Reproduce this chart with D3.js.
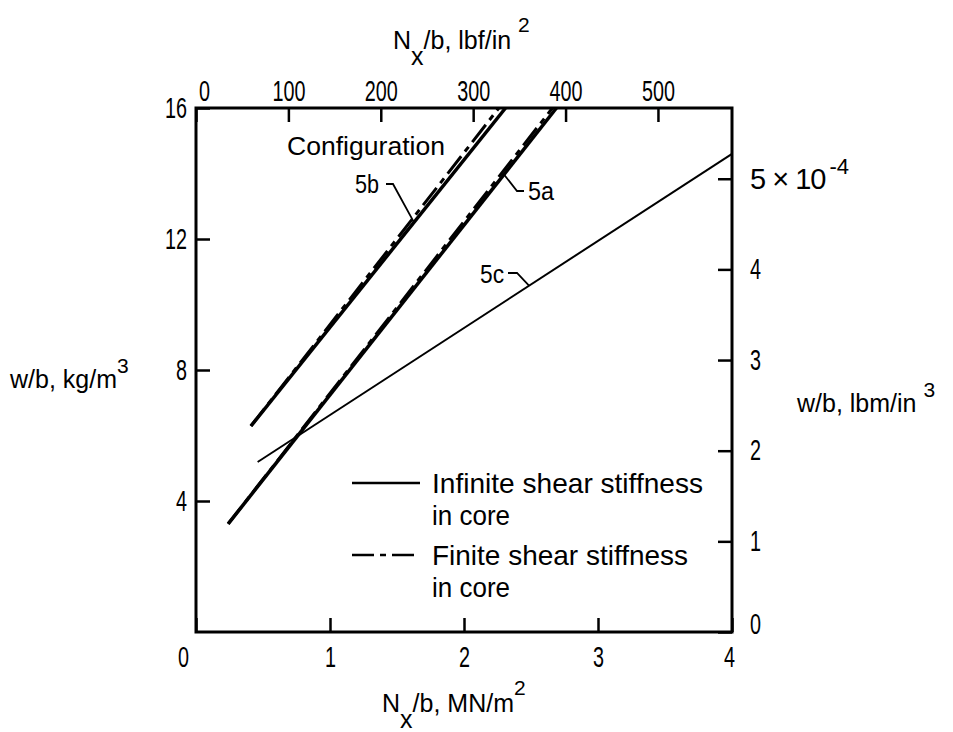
<!DOCTYPE html>
<html>
<head>
<meta charset="utf-8">
<script src="https://cdn.jsdelivr.net/npm/d3@7"></script>
<style>
  body { margin: 0; background: #fff; }
  svg text { font-family: "Liberation Sans", Arial, sans-serif; fill: #000; }
</style>
</head>
<body>
<svg id="chart" width="953" height="732"></svg>
<script>
// tick values, SI on bottom/left, US units on top/right
var siTicksX = [0, 1, 2, 3, 4],
    siTicksY = [4, 8, 12, 16],
    usTicksX = [0, 100, 200, 300, 400, 500],
    usTicksY = [0, 1, 2, 3, 4, 5];

// curves: [N_x/b in MN/m^2, w/b in kg/m^3]
var inf5a = [[0.24, 3.30], [2.69, 16]],
    fin5a = [[0.24, 3.30], [2.66, 16]],
    inf5b = [[0.41, 6.29], [2.31, 16]],
    fin5b = [[0.41, 6.29], [2.26, 16]],
    inf5c = [[0.46, 5.19], [4.0, 14.6]];

var psiPerMN  = 145.038,  // lbf/in^2 per MN/m^2
    lbmPerKg  = 0.36127;  // (lbm/in^3 x 1e-4) per kg/m^3

var x = d3.scaleLinear().domain([0, 4]).range([196, 732]);
var y = d3.scaleLinear().domain([0, 16]).range([632, 108]);
var xTop = d3.scaleLinear().domain([0, 4 * psiPerMN]).range([196, 732]);
var yRight = d3.scaleLinear().domain([0, 16 * lbmPerKg]).range([632, 108]);

var svg = d3.select("#chart");

// the original lettering is tall and narrow, so squeeze glyphs to a width
function fit(t, w) {
  t.attr("textLength", w).attr("lengthAdjust", "spacingAndGlyphs");
}

function styleAxis(g) {
  g.attr("font-size", 29);
  g.select(".domain").remove();
  g.selectAll(".tick line").attr("stroke", "#000").attr("stroke-width", 2.5);
  g.selectAll(".tick text").each(function (d) {
    fit(d3.select(this), String(d).length * 11);
  });
}

// bottom axis
var gb = svg.append("g")
  .attr("transform", "translate(0,632)")
  .call(d3.axisBottom(x).tickValues(siTicksX).tickSizeInner(-14).tickSizeOuter(0)
    .tickPadding(14).tickFormat(d3.format("d")))
  .call(styleAxis);
gb.selectAll(".tick text").attr("dx", function (d) { return d === 0 ? -13 : d === 4 ? -3 : 0; });

// left axis
svg.append("g")
  .attr("transform", "translate(196,0)")
  .call(d3.axisLeft(y).tickValues(siTicksY).tickSizeInner(-14).tickSizeOuter(0)
    .tickPadding(9).tickFormat(d3.format("d")))
  .call(styleAxis);

// top axis (lbf/in^2)
var gt = svg.append("g")
  .attr("transform", "translate(0,108)")
  .call(d3.axisTop(xTop).tickValues(usTicksX).tickSizeInner(-14).tickSizeOuter(0)
    .tickPadding(7).tickFormat(d3.format("d")))
  .call(styleAxis);
gt.selectAll(".tick text").attr("dx", function (d) { return d === 0 ? 8 : 0; });

// right axis (lbm/in^3)
var gr = svg.append("g")
  .attr("transform", "translate(732,0)")
  .call(d3.axisRight(yRight).tickValues(usTicksY).tickSizeInner(-14).tickSizeOuter(0)
    .tickPadding(18).tickFormat(d3.format("d")))
  .call(styleAxis);
gr.selectAll(".tick text").filter(function (d) { return d === 0; }).attr("dy", "0.05em");
gr.selectAll(".tick text").filter(function (d) { return d === 5; })
  .text(null)
  .attr("textLength", null).attr("lengthAdjust", null)
  .call(function (t) {
    t.append("tspan").attr("letter-spacing", -1).text("5 \u00d7 10");
    t.append("tspan").attr("dx", 4).attr("dy", -15).attr("font-size", 22).text("-4");
  });

// frame
svg.append("rect")
  .attr("x", x(0)).attr("y", y(16))
  .attr("width", x(4) - x(0)).attr("height", y(0) - y(16))
  .attr("fill", "none").attr("stroke", "#000").attr("stroke-width", 3);

// curves
var line = d3.line().x(function (d) { return x(d[0]); }).y(function (d) { return y(d[1]); });
var dashDot = "22,6,6,6";

[inf5a, inf5b].forEach(function (s) {
  svg.append("path").attr("d", line(s)).attr("fill", "none")
    .attr("stroke", "#000").attr("stroke-width", 3.5);
});
[fin5a, fin5b].forEach(function (s) {
  svg.append("path").attr("d", line(s)).attr("fill", "none")
    .attr("stroke", "#000").attr("stroke-width", 3).attr("stroke-dasharray", dashDot);
});
svg.append("path").attr("d", line(inf5c)).attr("fill", "none")
  .attr("stroke", "#000").attr("stroke-width", 2);

// point on a curve at a given pixel x
function onLine(s, px) {
  var xv = x.invert(px),
      t = (xv - s[0][0]) / (s[1][0] - s[0][0]);
  return [px, y(s[0][1] + t * (s[1][1] - s[0][1]))];
}

var txt = svg.append("g").attr("font-size", 25);

txt.append("text").attr("x", 287).attr("y", 155).attr("font-size", 26)
  .text("Configuration").call(fit, 158);

// labels and leaders
function leader(pts) {
  svg.append("path").attr("d", d3.line()(pts)).attr("fill", "none")
    .attr("stroke", "#000").attr("stroke-width", 1.8);
}
txt.append("text").attr("x", 355).attr("y", 193).text("5b").call(fit, 24);
leader([[386, 184], [393, 184], onLine(inf5b, 414)]);

txt.append("text").attr("x", 528).attr("y", 200).text("5a").call(fit, 26);
leader([onLine(inf5a, 504), [517, 191], [524, 191]]);

txt.append("text").attr("x", 480).attr("y", 283).text("5c").call(fit, 24);
leader([[508, 273], [517, 273], onLine(inf5c, 529)]);

// legend
var lg = svg.append("g").attr("font-size", 28);
lg.append("line").attr("x1", 352).attr("x2", 420).attr("y1", 483).attr("y2", 483)
  .attr("stroke", "#000").attr("stroke-width", 2.5);
lg.append("text").attr("x", 432).attr("y", 493).text("Infinite shear stiffness").call(fit, 271);
lg.append("text").attr("x", 432).attr("y", 525).text("in core").call(fit, 78);
lg.append("line").attr("x1", 352).attr("x2", 420).attr("y1", 555).attr("y2", 555)
  .attr("stroke", "#000").attr("stroke-width", 2.5).attr("stroke-dasharray", dashDot);
lg.append("text").attr("x", 432).attr("y", 565).text("Finite shear stiffness").call(fit, 256);
lg.append("text").attr("x", 432).attr("y", 597).text("in core").call(fit, 78);

// axis titles
var bt = txt.append("text").attr("x", 382).attr("y", 712);
bt.append("tspan").text("N");
bt.append("tspan").attr("dy", 16).text("x");
bt.append("tspan").attr("dy", -16).text("/b, MN/m");
bt.append("tspan").attr("dy", -17).attr("font-size", 21).text("2");

var tt = txt.append("text").attr("x", 393).attr("y", 49);
tt.append("tspan").text("N");
tt.append("tspan").attr("dy", 16).text("x");
tt.append("tspan").attr("dy", -16).text("/b, lbf/in ");
tt.append("tspan").attr("dy", -17).attr("font-size", 21).text("2");

var lt = txt.append("text").attr("x", 10).attr("y", 388);
lt.append("tspan").text("w/b, kg/m");
lt.append("tspan").attr("dy", -15).attr("font-size", 21).text("3");

var rt = txt.append("text").attr("x", 797).attr("y", 412);
rt.append("tspan").text("w/b, lbm/in ");
rt.append("tspan").attr("dy", -15).attr("font-size", 21).text("3");
</script>
</body>
</html>
